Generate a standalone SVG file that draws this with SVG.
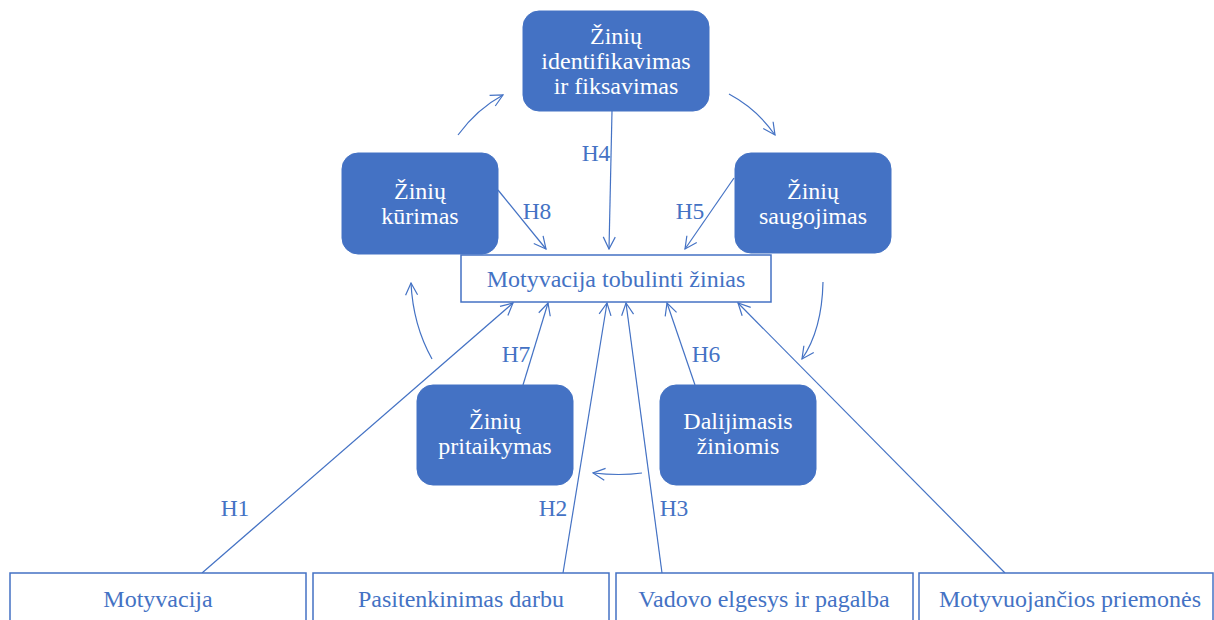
<svg xmlns="http://www.w3.org/2000/svg" width="1214" height="620" viewBox="0 0 1214 620">
<defs>
<style>
.node rect{fill:#4472C4;stroke:#4472C4}
.node text{fill:#ffffff;font-family:'Liberation Serif','Times New Roman',serif;font-size:24px;text-anchor:middle}
.box rect{fill:#ffffff;stroke:#4472C4;stroke-width:1.5}
.box text{fill:#4472C4;font-family:'Liberation Serif','Times New Roman',serif;font-size:24px;text-anchor:middle}
.conn path,.conn line{fill:none;stroke:#4472C4;stroke-width:1.2}
.lbl{fill:#4472C4;font-family:'Liberation Serif','Times New Roman',serif;font-size:23.5px;text-anchor:middle}
</style>
<marker id="ah" viewBox="0 0 14 14" refX="13" refY="7" markerWidth="14" markerHeight="14" markerUnits="userSpaceOnUse" orient="auto">
<path d="M1,1 L13,7 L1,13" fill="none" stroke="#4472C4" stroke-width="1.2"/>
</marker>
</defs>
<g id="connectors" class="conn">
<line x1="612" y1="111" x2="609" y2="249" marker-end="url(#ah)"/>
<line x1="498" y1="190" x2="546" y2="249" marker-end="url(#ah)"/>
<line x1="734" y1="178" x2="685" y2="249" marker-end="url(#ah)"/>
<line x1="202" y1="573" x2="513" y2="303" marker-end="url(#ah)"/>
<line x1="563" y1="573" x2="607" y2="303" marker-end="url(#ah)"/>
<line x1="662" y1="573" x2="626" y2="303" marker-end="url(#ah)"/>
<line x1="1005" y1="573" x2="738" y2="303" marker-end="url(#ah)"/>
<line x1="523" y1="385" x2="548" y2="303" marker-end="url(#ah)"/>
<line x1="695" y1="385" x2="667" y2="303" marker-end="url(#ah)"/>
<path d="M458,135 Q477,109 503,95" marker-end="url(#ah)"/>
<path d="M729,94 Q757,109 775,135" marker-end="url(#ah)"/>
<path d="M432,359 Q413,325 411,283" marker-end="url(#ah)"/>
<path d="M823,282 Q822,330 802,359" marker-end="url(#ah)"/>
<path d="M642,473 Q620,476 593,473" marker-end="url(#ah)"/>
</g>
<g id="labels">
<text class="lbl" x="596" y="161">H4</text>
<text class="lbl" x="537" y="219">H8</text>
<text class="lbl" x="690" y="219">H5</text>
<text class="lbl" x="516" y="362">H7</text>
<text class="lbl" x="706" y="362">H6</text>
<text class="lbl" x="235" y="516">H1</text>
<text class="lbl" x="553" y="516">H2</text>
<text class="lbl" x="674" y="516">H3</text>
</g>
<g id="node-identifikavimas" class="node">
<rect x="523" y="11" width="186" height="100" rx="16"/>
<text x="616" y="44">Žinių</text>
<text x="616" y="69">identifikavimas</text>
<text x="616" y="94">ir fiksavimas</text>
</g>
<g id="node-kurimas" class="node">
<rect x="342" y="153" width="156" height="101" rx="16"/>
<text x="420" y="199">Žinių</text>
<text x="420" y="224">kūrimas</text>
</g>
<g id="node-saugojimas" class="node">
<rect x="735" y="153" width="156" height="100" rx="16"/>
<text x="813" y="199">Žinių</text>
<text x="813" y="224">saugojimas</text>
</g>
<g id="node-pritaikymas" class="node">
<rect x="417" y="385" width="156" height="100" rx="16"/>
<text x="495" y="429">Žinių</text>
<text x="495" y="454">pritaikymas</text>
</g>
<g id="node-dalijimasis" class="node">
<rect x="660" y="385" width="156" height="100" rx="16"/>
<text x="738" y="429">Dalijimasis</text>
<text x="738" y="454">žiniomis</text>
</g>
<g id="node-motyvacija-tobulinti" class="box">
<rect x="461" y="255" width="310" height="47"/>
<text x="616" y="287">Motyvacija tobulinti žinias</text>
</g>
<g id="node-motyvacija" class="box">
<rect x="10" y="573" width="296" height="60"/>
<text x="158" y="607">Motyvacija</text>
</g>
<g id="node-pasitenkinimas" class="box">
<rect x="313" y="573" width="296" height="60"/>
<text x="461" y="607">Pasitenkinimas darbu</text>
</g>
<g id="node-vadovo" class="box">
<rect x="616" y="573" width="297" height="60"/>
<text x="764" y="607">Vadovo elgesys ir pagalba</text>
</g>
<g id="node-priemones" class="box">
<rect x="919" y="573" width="294" height="60"/>
<text x="1070" y="607">Motyvuojančios priemonės</text>
</g>
</svg>
